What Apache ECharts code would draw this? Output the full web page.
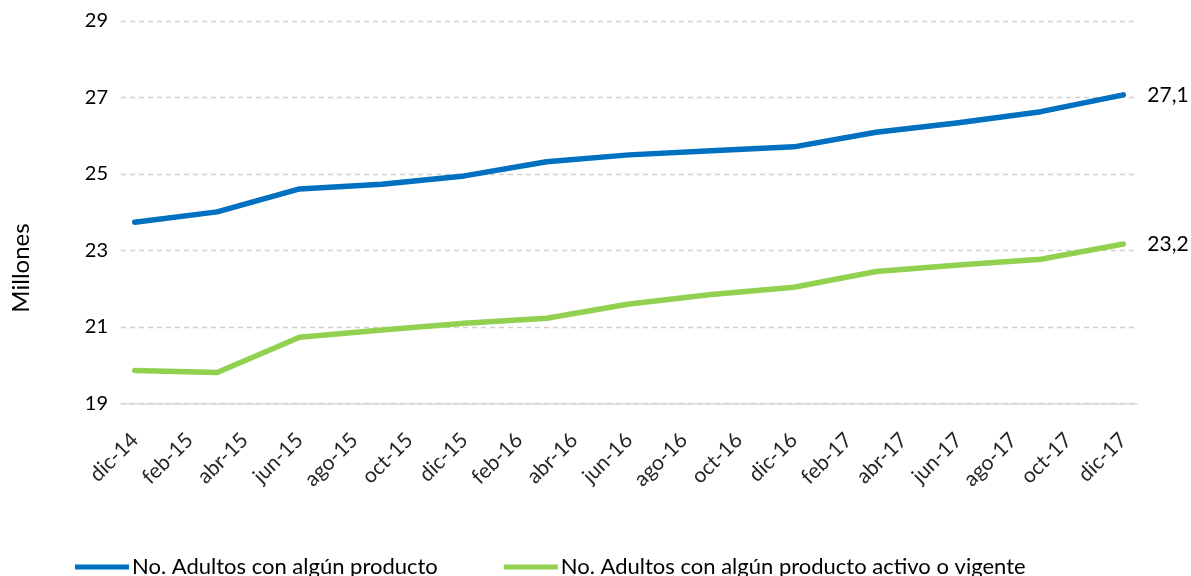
<!DOCTYPE html>
<html>
<head>
<meta charset="utf-8">
<script src="https://cdn.jsdelivr.net/npm/echarts@6/dist/echarts.min.js"></script>
<style>
html,body{margin:0;padding:0;background:#fff;}
#c{width:1191px;height:576px;}
</style>
</head>
<body>
<div id="c"></div>
<script>
var months = ['dic-14','ene-15','feb-15','mar-15','abr-15','may-15','jun-15','jul-15','ago-15','sep-15','oct-15','nov-15',
  'dic-15','ene-16','feb-16','mar-16','abr-16','may-16','jun-16','jul-16','ago-16','sep-16','oct-16','nov-16',
  'dic-16','ene-17','feb-17','mar-17','abr-17','may-17','jun-17','jul-17','ago-17','sep-17','oct-17','nov-17','dic-17'];
var quarters = ['dic-14','mar-15','jun-15','sep-15','dic-15','mar-16','jun-16','sep-16','dic-16','mar-17','jun-17','sep-17','dic-17'];
var adultosProducto = [23.74, 24.01, 24.61, 24.73, 24.95, 25.32, 25.50, 25.61, 25.71, 26.09, 26.34, 26.63, 27.07];
var adultosActivo = [19.86, 19.81, 20.73, 20.92, 21.10, 21.23, 21.60, 21.85, 22.04, 22.45, 22.62, 22.77, 23.17];
var yTicks = [19, 21, 23, 25, 27, 29];
var seriesNames = ['No. Adultos con algún producto', 'No. Adultos con algún producto activo o vigente'];
var yTitle = 'Millones';

function pairs(vals){ return quarters.map(function(q,i){ return [q, vals[i]]; }); }
var FONT = 'Lato';
var chart = echarts.init(document.getElementById('c'));
function endLbl(){
  return {
    show: true, distance: 24, color: '#000', fontFamily: FONT, fontSize: 21,
    formatter: function(p){ return p.value[1].toFixed(1).replace('.', ','); }
  };
}
chart.setOption({
  animation: false,
  grid: {left: 121, right: 54, top: 21, bottom: 172.5},
  graphic: [{
    type: 'text', x: 21, y: 268, rotation: Math.PI / 2,
    style: {text: yTitle, fontFamily: FONT, fontSize: 24, fill: '#000', align: 'center', verticalAlign: 'middle'}
  }],
  legend: {
    left: 70, top: 551, itemWidth: 54, itemHeight: 5, itemGap: 66, icon: 'rect',
    textStyle: {fontFamily: FONT, fontSize: 22, color: '#000', padding: [0,0,0,-2]},
    data: seriesNames
  },
  xAxis: {
    type: 'category', data: months, boundaryGap: true,
    axisLine: {lineStyle: {color: '#d9d9d9', width: 1.5}},
    axisTick: {interval: 1, length: 6, lineStyle: {color: '#d9d9d9', width: 1.5}},
    axisLabel: {interval: 1, rotate: 45, margin: 33, fontFamily: FONT, fontSize: 21, color: '#262626'}
  },
  yAxis: {
    type: 'value', min: yTicks[0], max: yTicks[yTicks.length-1], interval: 2,
    axisLine: {show: false}, axisTick: {show: false},
    axisLabel: {margin: 13, fontFamily: FONT, fontSize: 20, color: '#000'},
    splitLine: {lineStyle: {color: '#d0d0d0', type: [5, 4], width: 1.3}}
  },
  series: [
    {name: seriesNames[0], type: 'line', data: pairs(adultosProducto), symbol: 'none',
     lineStyle: {color: '#0070C0', width: 5.5, cap: 'round', join: 'round'}, itemStyle: {color: '#0070C0'},
     endLabel: endLbl()},
    {name: seriesNames[1], type: 'line', data: pairs(adultosActivo), symbol: 'none',
     lineStyle: {color: '#92D050', width: 5.5, cap: 'round', join: 'round'}, itemStyle: {color: '#92D050'},
     endLabel: endLbl()}
  ]
});
</script>
</body>
</html>
